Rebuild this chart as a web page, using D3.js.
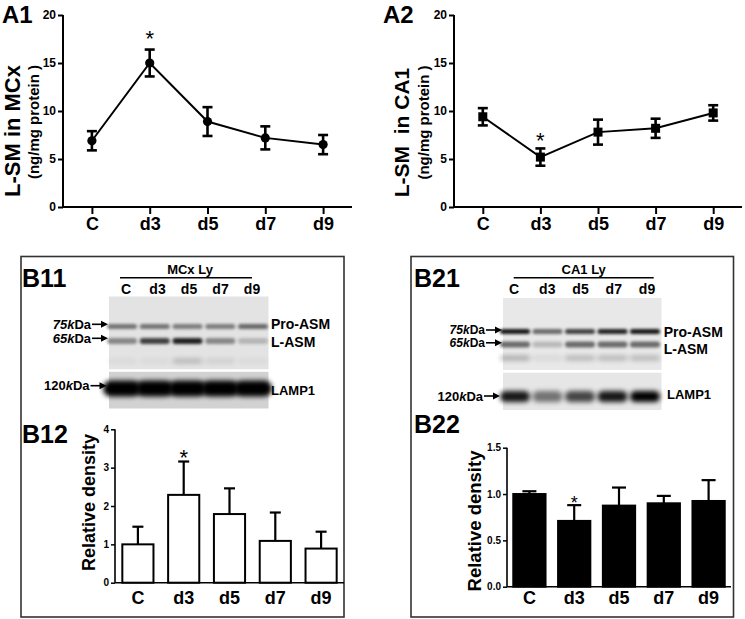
<!DOCTYPE html>
<html><head><meta charset="utf-8">
<script src="https://cdn.jsdelivr.net/npm/d3@7/dist/d3.min.js"></script>
<style>
body{margin:0;background:#fff;}
svg{display:block;font-family:Arial,"Liberation Sans",sans-serif;font-weight:bold;}
text{white-space:pre;}
</style></head>
<body>
<svg id="c" width="745" height="619"></svg>
<script>
// ---------- data ----------
const categories = ["C","d3","d5","d7","d9"];
// A1: L-SM in MCx (ng/mg protein)
const a1Mean = [6.9, 15.0, 8.9, 7.2, 6.5];
const a1Err  = [1.0, 1.4, 1.5, 1.2, 1.0];
// A2: L-SM in CA1 (ng/mg protein)
const a2Mean = [9.4, 5.2, 7.8, 8.2, 9.8];
const a2Err  = [0.9, 0.9, 1.3, 1.0, 0.8];
const aTicks = [0, 5, 10, 15, 20];
// B12: relative density (MCx)
const b12Mean = [1.0, 2.29, 1.79, 1.09, 0.89];
const b12Err  = [0.46, 0.87, 0.67, 0.74, 0.44];
const b12Ticks = [0, 1, 2, 3, 4];
// B22: relative density (CA1)
const b22Mean = [1.0, 0.71, 0.875, 0.90, 0.925];
const b22Err  = [0.03, 0.17, 0.195, 0.08, 0.225];
const b22Ticks = [0, 0.5, 1.0, 1.5];
// significance markers
const a1Sig = ["d3"], a2Sig = ["d3"], b12Sig = ["d3"], b22Sig = ["d3"];
// Western blot band intensities (0..1)
const b11Pro   = [0.55, 0.55, 0.5, 0.5, 0.6];
const b11L     = [0.45, 0.8, 0.95, 0.45, 0.22];
const b11Lamp  = [1, 1, 1, 1, 1];
const b21Pro   = [1, 0.6, 0.8, 0.95, 1];
const b21L     = [0.6, 0.22, 0.6, 0.6, 0.6];
const b21Lamp  = [0.9, 0.5, 0.7, 0.9, 1];

const svg = d3.select("#c");
const defs = svg.append("defs");
defs.append("filter").attr("id","blur").attr("x","-50%").attr("y","-100%").attr("width","200%").attr("height","300%")
  .append("feGaussianBlur").attr("stdDeviation", 1.6);
defs.append("filter").attr("id","blur2").attr("x","-50%").attr("y","-100%").attr("width","200%").attr("height","300%")
  .append("feGaussianBlur").attr("stdDeviation", 2.4);

function txt(g, x, y, s, size, opts={}) {
  const t = g.append("text").attr("x", x).attr("y", y).attr("font-size", size).text(s);
  if (opts.anchor) t.attr("text-anchor", opts.anchor);
  if (opts.rotate) t.attr("transform", `rotate(-90,${x},${y})`);
  if (opts.weight) t.attr("font-weight", opts.weight);
  return t;
}
function star(g, x, cy, size) {
  g.append("text").attr("x", x).attr("y", cy + 0.575*size).attr("text-anchor","middle")
    .attr("font-size", size).attr("font-weight","normal").text("*");
}

// ---------- line charts ----------
function lineChart(opt) {
  const g = svg.append("g");
  const x = d3.scalePoint().domain(categories).range(opt.xr).padding(0.5);
  const y = d3.scaleLinear().domain([0,20]).range(opt.yr);
  const yAx = g.append("g").attr("transform",`translate(${opt.xr[0]},0)`)
    .call(d3.axisLeft(y).tickValues(aTicks).tickSize(5).tickSizeOuter(0).tickPadding(2));
  const xAx = g.append("g").attr("transform",`translate(0,${opt.yr[0]})`)
    .call(d3.axisBottom(x).tickSize(7).tickSizeOuter(0).tickPadding(3));
  [yAx,xAx].forEach(a => {
    a.selectAll("path,line").attr("stroke","#000").attr("stroke-width",2);
    a.select(".domain").attr("d", null);
  });
  g.append("line").attr("x1",opt.xr[0]).attr("x2",opt.xr[0]).attr("y1",opt.yr[0]+1).attr("y2",opt.yr[1]).attr("stroke","#000").attr("stroke-width",2);
  g.append("line").attr("x1",opt.xr[0]-1).attr("x2",opt.xr[1]).attr("y1",opt.yr[0]).attr("y2",opt.yr[0]).attr("stroke","#000").attr("stroke-width",2);
  yAx.selectAll("text").attr("font-size",12).attr("font-weight","bold").attr("fill","#000").attr("font-family","Arial, Liberation Sans");
  xAx.selectAll("text").attr("font-size",18).attr("font-weight","bold").attr("fill","#000").attr("font-family","Arial, Liberation Sans");
  const data = categories.map((c,i)=>({c, m:opt.mean[i], e:opt.err[i]}));
  g.append("path").datum(data).attr("fill","none").attr("stroke","#000").attr("stroke-width",2)
    .attr("d", d3.line().x(d=>x(d.c)).y(d=>y(d.m)));
  const eb = g.selectAll(".eb").data(data).enter().append("g");
  eb.append("line").attr("x1",d=>x(d.c)).attr("x2",d=>x(d.c)).attr("y1",d=>y(d.m-d.e)).attr("y2",d=>y(d.m+d.e)).attr("stroke","#000").attr("stroke-width",2.6);
  [1,-1].forEach(s=>eb.append("line").attr("x1",d=>x(d.c)-5).attr("x2",d=>x(d.c)+5)
    .attr("y1",d=>y(d.m+s*d.e)).attr("y2",d=>y(d.m+s*d.e)).attr("stroke","#000").attr("stroke-width",2.6));
  if (opt.marker==="circle") eb.append("circle").attr("cx",d=>x(d.c)).attr("cy",d=>y(d.m)).attr("r",4.6).attr("fill","#000");
  else eb.append("rect").attr("x",d=>x(d.c)-4.5).attr("y",d=>y(d.m)-4.5).attr("width",9).attr("height",9).attr("fill","#000");
  data.filter(d=>opt.sig.includes(d.c)).forEach(d=>star(g, x(d.c), opt.starY(y,d), 22));
  txt(g, opt.lx[0], opt.ly[0], opt.l1, opt.l1s, {anchor:"middle", rotate:true});
  txt(g, opt.lx[1], opt.ly[1], "(ng/mg protein )", 15, {anchor:"middle", rotate:true});
  txt(g, opt.tag[0], opt.tag[1], opt.tag[2], 24);
}
lineChart({xr:[63,352], yr:[207,15], mean:a1Mean, err:a1Err, marker:"circle", sig:a1Sig,
  starY:(y,d)=>y(d.m+d.e)-16, lx:[20,38.5], ly:[131,122], l1:"L-SM in MCx", l1s:22, tag:[2,23,"A1"]});
lineChart({xr:[454,742], yr:[207,15], mean:a2Mean, err:a2Err, marker:"square", sig:a2Sig,
  starY:(y,d)=>y(d.m+d.e)-13, lx:[408.5,429], ly:[132.5,122.5], l1:"L-SM\u00a0 in CA1", l1s:21, tag:[383,23,"A2"]});

// ---------- boxes ----------
svg.append("rect").attr("x",21).attr("y",256.5).attr("width",323).attr("height",360.5).attr("fill","none").attr("stroke","#333").attr("stroke-width",1.6);
svg.append("rect").attr("x",411).attr("y",256.5).attr("width",322.5).attr("height",360.5).attr("fill","none").attr("stroke","#333").attr("stroke-width",1.6);

// ---------- blots ----------
function arrowLabel(g, xEnd, cy, parts, size) {
  const t = g.append("text").attr("x", xEnd-17).attr("y", cy+size*0.36).attr("text-anchor","end").attr("font-size", size);
  parts.forEach(p => t.append("tspan").attr("font-style", p[1] ? "italic" : "normal").text(p[0]));
  g.append("line").attr("x1",xEnd-16).attr("x2",xEnd-5).attr("y1",cy).attr("y2",cy).attr("stroke","#000").attr("stroke-width",1.6);
  g.append("path").attr("d",`M${xEnd},${cy} L${xEnd-7},${cy-3.5} L${xEnd-7},${cy+3.5} Z`).attr("fill","#000");
}
function blot(opt) {
  const g = svg.append("g");
  const lane = d3.scalePoint().domain(categories).range(opt.lanes);
  const lab = d3.scalePoint().domain(categories).range(opt.labs);
  g.append("rect").attr("x",opt.bx[0]).attr("y",opt.top[0]).attr("width",opt.bx[1]-opt.bx[0]).attr("height",opt.top[1]-opt.top[0]).attr("fill",opt.bg);
  g.append("rect").attr("x",opt.bx[0]).attr("y",opt.low[0]).attr("width",opt.bx[1]-opt.bx[0]).attr("height",opt.low[1]-opt.low[0]).attr("fill",opt.bg2);
  const band = (vals, cy, h, bw, op, filt) => g.selectAll(null).data(categories).enter().append("rect")
    .attr("x", c=>lane(c)-bw/2).attr("y", cy-h/2).attr("width", bw).attr("height", h).attr("rx", h/2)
    .attr("fill","#000").attr("opacity",(c,i)=>vals[i]*op).attr("filter",`url(#${filt})`);
  band(opt.pro, opt.proY, 5, opt.bandW, 0.9, "blur");
  band(opt.lasm, opt.lY, 6, opt.bandW, 0.9, "blur");
  band(opt.faint, opt.fY, 5, opt.bandW, 0.9, "blur2");
  band(opt.lamp, opt.lampY, opt.lampH, opt.lampW, 1, "blur2");
  txt(g, opt.headX, 273.5, opt.head, 13, {anchor:"middle"});
  g.append("line").attr("x1",opt.headLine[0]).attr("x2",opt.headLine[1]).attr("y1",277.7).attr("y2",277.7).attr("stroke","#000").attr("stroke-width",1.4);
  categories.forEach(c => txt(g, lab(c), 293.5, c, 14, {anchor:"middle"}));
  arrowLabel(g, opt.arrowX, opt.k75, [["75",true],["k",true],["Da",false]], opt.kfs);
  arrowLabel(g, opt.arrowX, opt.k65, [["65",true],["k",true],["Da",false]], opt.kfs);
  arrowLabel(g, opt.arrowX2, opt.k120, [["120",false],["k",true],["Da",false]], 13);
  txt(g, opt.rx, opt.proT, "Pro-ASM", 14);
  txt(g, opt.rx, opt.lT, "L-ASM", 14);
  txt(g, opt.rx2, opt.lampT, "LAMP1", 13);
  txt(g, opt.tag[0], opt.tag[1], opt.tag[2], 25);
}
blot({lanes:[122,253], labs:[126,252], bx:[109,268.5], top:[296.5,369.3], low:[371.8,408.5], bg:"#e3e3e3", bg2:"#d2d2d2",
  bandW:30, pro:b11Pro, proY:326.5, lasm:b11L, lY:341, faint:[0.05,0.05,0.22,0.1,0.05], fY:361,
  lamp:b11Lamp, lampY:388.5, lampH:16, lampW:38, head:"MCx Ly", headX:190, headLine:[120,252], kfs:13,
  arrowX:108, arrowX2:106.5, k75:324.3, k65:338.3, k120:385.7, rx:271, rx2:271, proT:328.5, lT:347, lampT:395,
  tag:[22,287,"B11"]});
blot({lanes:[515,645], labs:[514,647], bx:[503,661.5], top:[298,370], low:[372.7,410], bg:"#e8e8e8", bg2:"#e6e6e6",
  bandW:30, pro:b21Pro, proY:331.5, lasm:b21L, lY:344.5, faint:[0.3,0.08,0.25,0.25,0.25], fY:358,
  lamp:b21Lamp, lampY:396.5, lampH:11, lampW:30, head:"CA1 Ly", headX:583.7, headLine:[513.7,653.7], kfs:12,
  arrowX:502, arrowX2:500, k75:330, k65:342.8, k120:396, rx:663.7, rx2:667, proT:336.5, lT:353.5, lampT:398.5,
  tag:[414,287,"B21"]});

// ---------- bar charts ----------
function barChart(opt) {
  const g = svg.append("g");
  const x = d3.scaleBand().domain(categories).range(opt.xr).paddingInner(opt.pi).paddingOuter(opt.pi/2);
  const y = d3.scaleLinear().domain(opt.dom).range(opt.yr);
  const yAx = g.append("g").attr("transform",`translate(${opt.xr[0]},0)`)
    .call(d3.axisLeft(y).tickValues(opt.ticks).tickFormat(opt.fmt).tickSize(4).tickSizeOuter(0).tickPadding(2));
  yAx.select(".domain").remove();
  yAx.selectAll("line").attr("stroke","#000").attr("stroke-width",1.5);
  yAx.selectAll("text").attr("font-size",10).attr("font-weight","bold").attr("fill","#000").attr("font-family","Arial, Liberation Sans");
  g.append("line").attr("x1",opt.xr[0]).attr("x2",opt.xr[0]).attr("y1",opt.yr[0]).attr("y2",opt.yr[1]).attr("stroke","#000").attr("stroke-width",1.6);
  g.append("line").attr("x1",opt.xr[0]).attr("x2",opt.xr[1]).attr("y1",opt.yr[0]).attr("y2",opt.yr[0]).attr("stroke","#000").attr("stroke-width",1.6);
  const data = categories.map((c,i)=>({c, m:opt.mean[i], e:opt.err[i]}));
  const cx = d => x(d.c)+x.bandwidth()/2;
  g.selectAll(".e").data(data).enter().append("line").attr("x1",cx).attr("x2",cx)
    .attr("y1",d=>y(d.m)).attr("y2",d=>y(d.m+d.e)).attr("stroke","#000").attr("stroke-width",2.2);
  g.selectAll(".c").data(data).enter().append("line").attr("x1",d=>cx(d)-opt.cap).attr("x2",d=>cx(d)+opt.cap)
    .attr("y1",d=>y(d.m+d.e)).attr("y2",d=>y(d.m+d.e)).attr("stroke","#000").attr("stroke-width",2.2);
  g.selectAll(".b").data(data).enter().append("rect").attr("x",d=>x(d.c)).attr("width",x.bandwidth())
    .attr("y",d=>y(d.m)).attr("height",d=>opt.yr[0]-y(d.m))
    .attr("fill",opt.fill).attr("stroke","#000").attr("stroke-width",2);
  categories.forEach(c => txt(g, x(c)+x.bandwidth()/2, 604, c, 18, {anchor:"middle"}));
  data.filter(d=>opt.sig.includes(d.c)).forEach(d=>star(g, cx(d), opt.starY(y,d), opt.starS));
  txt(g, opt.lx, opt.ly, "Relative density", opt.ls, {anchor:"middle", rotate:true});
  txt(g, opt.tag[0], opt.tag[1], opt.tag[2], 25);
}
barChart({xr:[115,344], yr:[582.7,429.3], dom:[0,4], ticks:b12Ticks, fmt:d3.format("d"), pi:0.32, mean:b12Mean, err:b12Err,
  fill:"#fff", cap:5.5, sig:b12Sig, starY:(y,d)=>y(d.m+d.e)-9, starS:22, lx:95, ly:502.5, ls:18, tag:[22,443,"B12"]});
barChart({xr:[507,731], yr:[586.7,447.7], dom:[0,1.5], ticks:b22Ticks, fmt:d3.format(".1f"), pi:0.28, mean:b22Mean, err:b22Err,
  fill:"#000", cap:7, sig:b22Sig, starY:(y,d)=>y(d.m+d.e)-7, starS:18, lx:480.5, ly:521, ls:18.5, tag:[414,433,"B22"]});
</script>
</body></html>
